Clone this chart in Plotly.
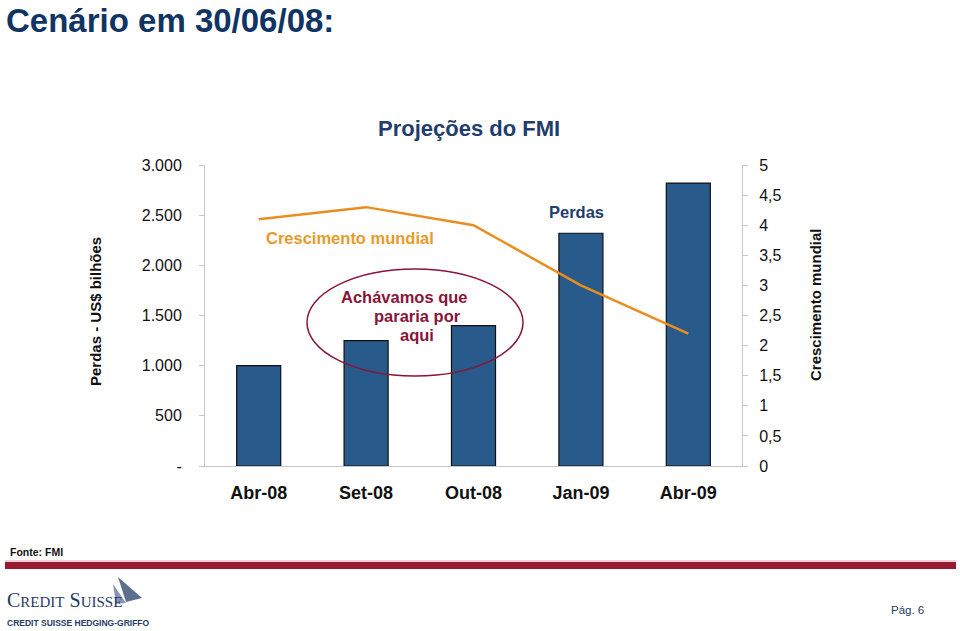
import plotly.graph_objects as go

categories = ["Abr-08", "Set-08", "Out-08", "Jan-09", "Abr-09"]
perdas = [1000, 1250, 1400, 2320, 2820]
crescimento = [4.1, 4.3, 4.0, 3.0, 2.2]
left_ticks = [0, 500, 1000, 1500, 2000, 2500, 3000]
left_labels = ["-", "500", "1.000", "1.500", "2.000", "2.500", "3.000"]
right_ticks = [0, 0.5, 1, 1.5, 2, 2.5, 3, 3.5, 4, 4.5, 5]
right_labels = ["0", "0,5", "1", "1,5", "2", "2,5", "3", "3,5", "4", "4,5", "5"]

W, H = 960, 631
L, R, T, B = 205, 742, 165, 466
FONT = "Arial, Liberation Sans, sans-serif"


def px(x):
    return (x - L) / (R - L)


def py(y):
    return (B - y) / (B - T)


fig = go.Figure()
fig.add_trace(go.Bar(
    x=categories, y=perdas, name="Perdas",
    marker=dict(color="#285A8C", line=dict(color="#111111", width=1.2)),
    width=0.41, yaxis="y",
))
fig.add_trace(go.Scatter(
    x=categories, y=crescimento, name="Crescimento mundial",
    mode="lines", line=dict(color="#E98E1E", width=2.5), yaxis="y2",
))

annotations = [
    dict(text="<b>Cenário em 30/06/08:</b>", x=px(4), y=py(20), xref="paper", yref="paper",
         xanchor="left", yanchor="middle", showarrow=False,
         font=dict(size=33, color="#103463", family=FONT)),
    dict(text="<b>Projeções do FMI</b>", x=px(469), y=py(128), xref="paper", yref="paper",
         xanchor="center", yanchor="middle", showarrow=False,
         font=dict(size=22, color="#1F3D6D", family=FONT)),
    dict(text="<b>Perdas - US$ bilhões</b>", x=px(95), y=py(312), xref="paper", yref="paper",
         xanchor="center", yanchor="middle", textangle=-90, showarrow=False,
         font=dict(size=15, color="#111111", family=FONT)),
    dict(text="<b>Crescimento mundial</b>", x=px(815), y=py(305), xref="paper", yref="paper",
         xanchor="center", yanchor="middle", textangle=-90, showarrow=False,
         font=dict(size=15, color="#111111", family=FONT)),
    dict(text="<b>Crescimento mundial</b>", x=px(350), y=py(238), xref="paper", yref="paper",
         xanchor="center", yanchor="middle", showarrow=False,
         font=dict(size=16.5, color="#E99A2A", family=FONT)),
    dict(text="<b>Perdas</b>", x=px(576), y=py(212), xref="paper", yref="paper",
         xanchor="center", yanchor="middle", showarrow=False,
         font=dict(size=16.5, color="#1F3D6D", family=FONT)),
    dict(text="<b>Achávamos que</b>", x=px(404), y=py(297), xref="paper", yref="paper",
         xanchor="center", yanchor="middle", showarrow=False,
         font=dict(size=16.5, color="#8A1538", family=FONT)),
    dict(text="<b>pararia por</b>", x=px(417), y=py(316), xref="paper", yref="paper",
         xanchor="center", yanchor="middle", showarrow=False,
         font=dict(size=16.5, color="#8A1538", family=FONT)),
    dict(text="<b>aqui</b>", x=px(417), y=py(335), xref="paper", yref="paper",
         xanchor="center", yanchor="middle", showarrow=False,
         font=dict(size=16.5, color="#8A1538", family=FONT)),
    dict(text="<b>Fonte: FMI</b>", x=px(8), y=py(552), xref="paper", yref="paper",
         xanchor="left", yanchor="middle", showarrow=False,
         font=dict(size=10.5, color="#111111", family=FONT)),
    dict(text="C<span style='font-size:15px'>REDIT</span> S<span style='font-size:15px'>UISSE</span>",
         x=px(5), y=py(600), xref="paper", yref="paper",
         xanchor="left", yanchor="middle", showarrow=False,
         font=dict(size=20, color="#1F3B66", family="Liberation Serif, serif")),
    dict(text="<b>CREDIT SUISSE HEDGING-GRIFFO</b>", x=px(5), y=py(623), xref="paper", yref="paper",
         xanchor="left", yanchor="middle", showarrow=False,
         font=dict(size=8.5, color="#1F3B66", family=FONT)),
    dict(text="Pág. 6", x=px(889), y=py(610), xref="paper", yref="paper",
         xanchor="left", yanchor="middle", showarrow=False,
         font=dict(size=11.5, color="#1F3B66", family=FONT)),
]

shapes = [
    dict(type="circle", xref="paper", yref="paper",
         x0=px(307), x1=px(523), y0=py(376), y1=py(269),
         line=dict(color="#8A1538", width=1.5), fillcolor="rgba(0,0,0,0)"),
    dict(type="rect", xref="paper", yref="paper",
         x0=px(5), x1=px(956), y0=py(569), y1=py(562),
         line=dict(width=0), fillcolor="#981B34"),
    dict(type="line", xref="paper", yref="paper",
         x0=px(5), x1=px(956), y0=py(561), y1=py(561),
         line=dict(width=1, color="#E6A0AC")),
    dict(type="path", xref="paper", yref="paper",
         path=f"M {px(118)},{py(577)} L {px(142)},{py(598)} L {px(126)},{py(602)} Z",
         line=dict(width=0), fillcolor="#5C6F8F"),
    dict(type="path", xref="paper", yref="paper",
         path=f"M {px(113)},{py(584)} L {px(126)},{py(603)} L {px(116)},{py(604)} Z",
         line=dict(width=0), fillcolor="#8796B0"),
]

fig.update_layout(
    width=W, height=H,
    margin=dict(l=L, r=W - R, t=T, b=H - B, pad=0),
    paper_bgcolor="white", plot_bgcolor="white",
    showlegend=False,
    font=dict(family=FONT, color="#111111"),
    bargap=0.59,
    xaxis=dict(
        type="category", showgrid=False, showline=True, linecolor="#C8C8C8", linewidth=1,
        ticks="", tickfont=dict(size=18, color="#111111", weight="bold"), ticklabelstandoff=10,
    ),
    yaxis=dict(
        range=[0, 3000], tickvals=left_ticks, ticktext=left_labels,
        showgrid=False, zeroline=False, showline=True, linecolor="#C8C8C8", linewidth=1,
        ticks="outside", ticklen=5, tickcolor="#C8C8C8",
        tickfont=dict(size=16, color="#111111"), ticklabelstandoff=14,
    ),
    yaxis2=dict(
        range=[0, 5], tickvals=right_ticks, ticktext=right_labels,
        overlaying="y", side="right",
        showgrid=False, zeroline=False, showline=True, linecolor="#C8C8C8", linewidth=1,
        ticks="outside", ticklen=5, tickcolor="#C8C8C8",
        tickfont=dict(size=16, color="#111111"), ticklabelstandoff=8,
    ),
    annotations=annotations,
    shapes=shapes,
)

fig.write_html("out.html")
